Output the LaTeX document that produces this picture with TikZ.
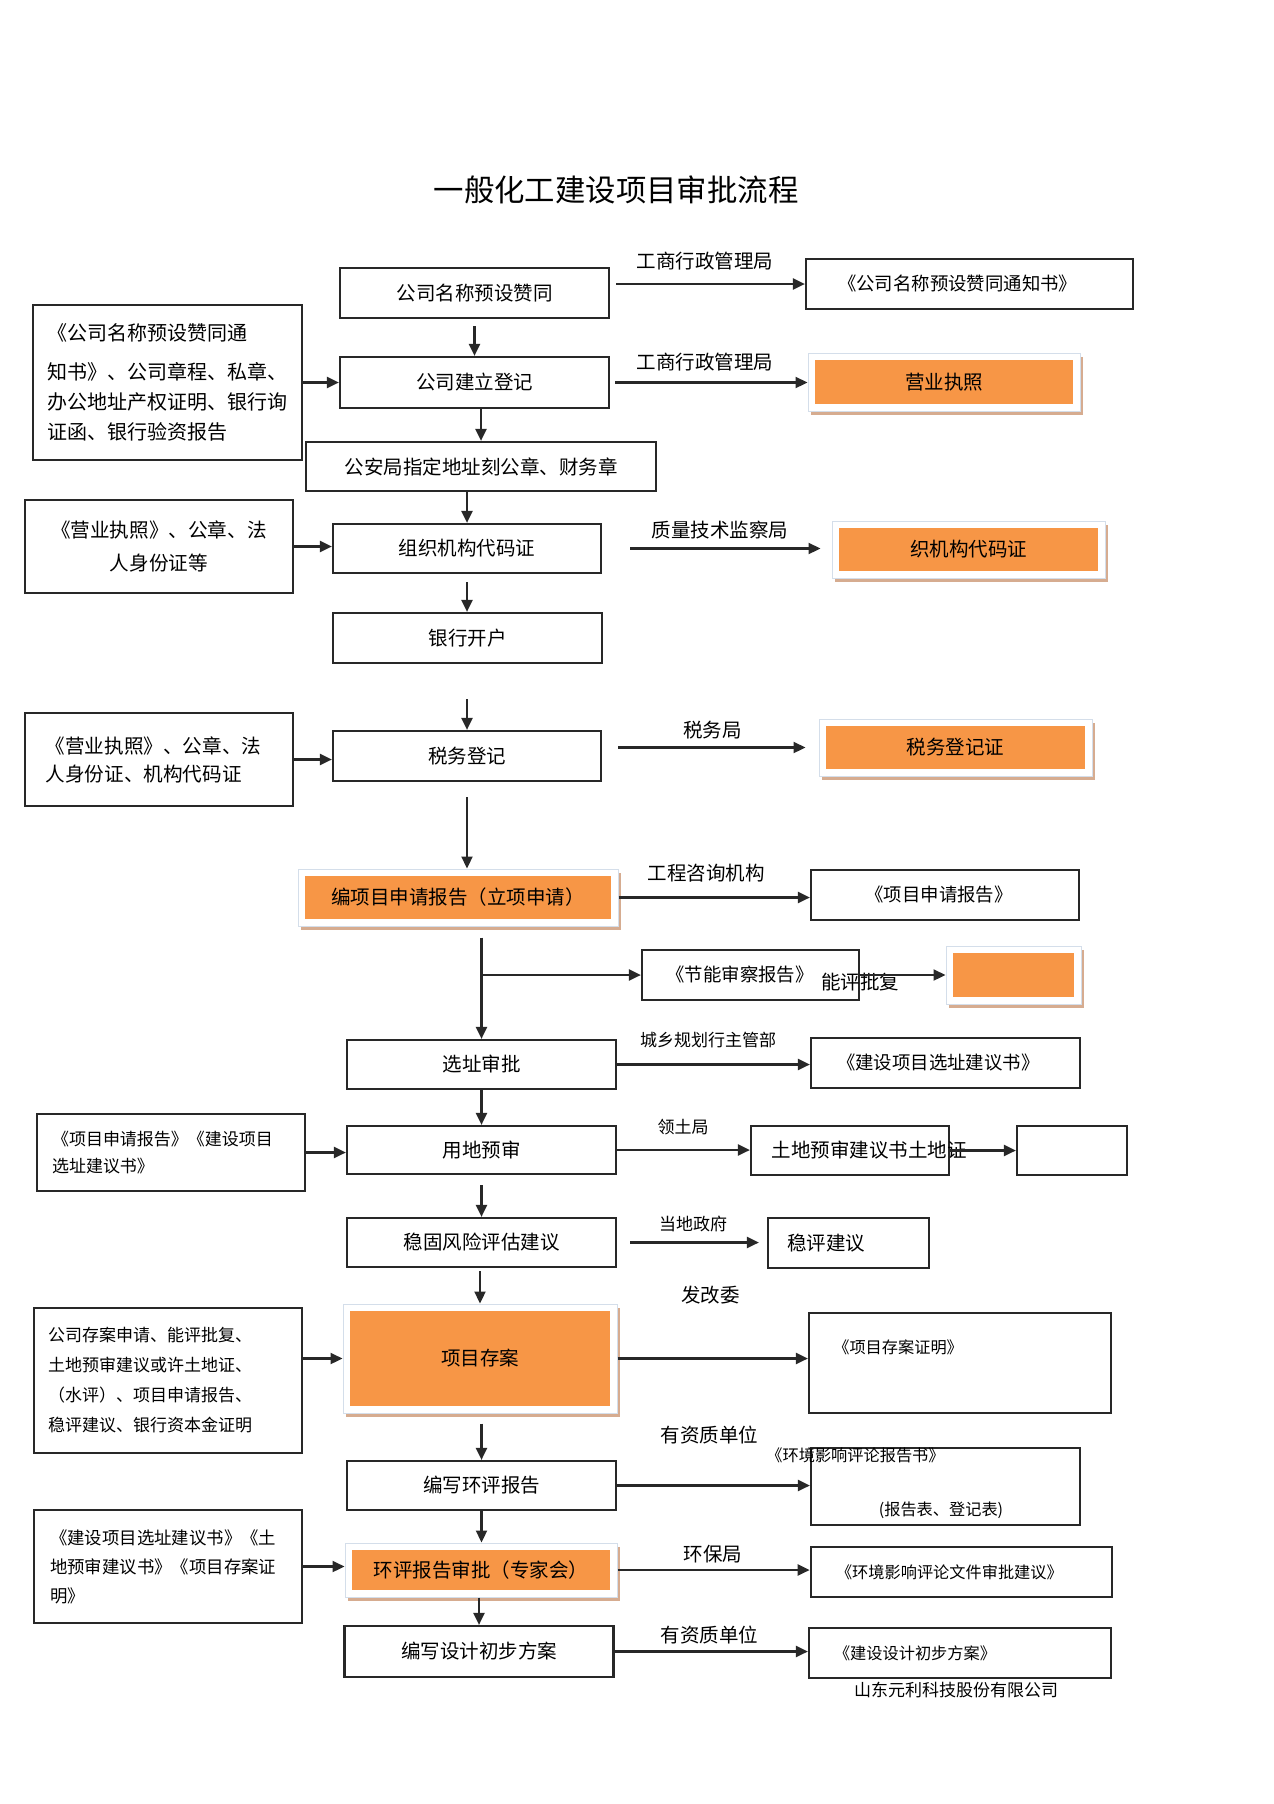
\documentclass[tikz,border=0pt]{standalone}
\usepackage{fontspec}
\setmainfont{Noto Sans CJK SC}
\usetikzlibrary{arrows.meta}

\definecolor{boxorange}{RGB}{247,150,70}
\definecolor{boxshade}{RGB}{214,172,144}
\definecolor{boxrim}{RGB}{212,222,234}
\definecolor{inkgray}{RGB}{40,40,40}

\tikzset{
  plainbox/.style={draw=inkgray, line width=1.1pt, fill=white, inner sep=0pt},
  hotbox/.style={rectangle, draw=boxrim, line width=0.5pt, fill=white, inner sep=0pt,
    preaction={fill=boxshade, transform canvas={xshift=1.5pt, yshift=-2pt}},
    path picture={\fill[boxorange]
      ([shift={(3.5pt,3.5pt)}]path picture bounding box.south west) rectangle
      ([shift={(-3.5pt,-3.5pt)}]path picture bounding box.north east);}},
  flowarrow/.style={draw=inkgray, line width=1.1pt, -{Triangle[length=6pt,width=5.5pt]}},
  txt/.style={inner sep=0pt},
  bigtext/.style={font=\fontsize{9.75pt}{12pt}\selectfont},
  midtext/.style={font=\fontsize{9.2pt}{12pt}\selectfont},
  smalltext/.style={font=\fontsize{8.5pt}{12pt}\selectfont},
  tinytext/.style={font=\fontsize{8.1pt}{12pt}\selectfont}
}

\begin{document}
\begin{tikzpicture}[x=0.5pt,y=-0.5pt]
\useasboundingbox (0,0) rectangle (1274,1804);
\fill[white] (0,0) rectangle (1274,1804);

\node[txt, font=\fontsize{15.2pt}{18pt}\selectfont] (title) at (616,190) {一般化工建设项目审批流程};

% main column
\node[plainbox, bigtext, minimum width=134.5pt, minimum height=25pt] (a1) at (474.5,293) {公司名称预设赞同};
\node[plainbox, bigtext, minimum width=134.5pt, minimum height=25.5pt] (a2) at (474.5,382.5) {公司建立登记};
\node[plainbox, bigtext, minimum width=175pt, minimum height=24.5pt] (a3) at (481,466.5) {公安局指定地址刻公章、财务章};
\node[plainbox, bigtext, minimum width=134pt, minimum height=24.5pt] (a4) at (467,548.5) {组织机构代码证};
\node[plainbox, bigtext, minimum width=134.5pt, minimum height=25pt] (a5) at (467.5,638) {银行开户};
\node[plainbox, bigtext, minimum width=134pt, minimum height=25pt] (a6) at (467,756) {税务登记};
\node[hotbox, bigtext, minimum width=160pt, minimum height=28.5pt] (a7) at (458,897.5) {编项目申请报告（立项申请）};
\node[plainbox, bigtext, minimum width=134.5pt, minimum height=24.5pt] (a8) at (481.5,1064.5) {选址审批};
\node[plainbox, bigtext, minimum width=134.5pt, minimum height=24pt] (a9) at (481.5,1150) {用地预审};
\node[plainbox, bigtext, minimum width=134.5pt, minimum height=24.5pt] (a10) at (481.5,1242.5) {稳固风险评估建议};
\node[hotbox, bigtext, minimum width=137pt, minimum height=54.5pt] (a11) at (480,1358.5) {项目存案};
\node[plainbox, bigtext, minimum width=134.5pt, minimum height=24.5pt] (a12) at (481.5,1485.5) {编写环评报告};
\node[hotbox, bigtext, minimum width=136pt, minimum height=27pt] (a13) at (481,1570) {环评报告审批（专家会）};
\node[plainbox, bigtext, minimum width=134.5pt, minimum height=25.5pt] (a14) at (479,1651.5) {编写设计初步方案};

% left column
\node[plainbox, font=\fontsize{10pt}{15pt}\selectfont, minimum width=134.5pt, minimum height=77.5pt, text width=120pt, align=left] (l1) at (167.5,382.5)
  {《公司名称预设赞同通\\[4.5pt]知书》、公司章程、私章、\\办公地址产权证明、银行询\\证函、银行验资报告};
\node[plainbox, font=\fontsize{9.8pt}{16.5pt}\selectfont, minimum width=134pt, minimum height=46.5pt, text width=120pt, align=center] (l2) at (159,546.5)
  {《营业执照》、公章、法\\人身份证等};
\node[plainbox, font=\fontsize{9.8pt}{14pt}\selectfont, minimum width=134.25pt, minimum height=46.5pt, text width=113.3pt, align=left] (l3) at (159,759.5)
  {《营业执照》、公章、法\\人身份证、机构代码证};
\node[plainbox, font=\fontsize{8.5pt}{13.5pt}\selectfont, minimum width=134pt, minimum height=38.5pt, text width=119pt, align=left] (l4) at (171,1152.5)
  {《项目申请报告》《建设项目\\选址建议书》};
\node[plainbox, font=\fontsize{8.5pt}{15pt}\selectfont, minimum width=134pt, minimum height=72.5pt, text width=120pt, align=left] (l5) at (168,1380.5)
  {公司存案申请、能评批复、\\土地预审建议或许土地证、\\（水评）、项目申请报告、\\稳评建议、银行资本金证明};
\node[plainbox, font=\fontsize{8.7pt}{14.5pt}\selectfont, minimum width=134pt, minimum height=56.5pt, text width=118pt, align=left] (l6) at (168,1566.5)
  {《建设项目选址建议书》《土\\地预审建议书》《项目存案证\\明》};

% right column
\node[plainbox, midtext, minimum width=163.5pt, minimum height=25pt, text width=131.5pt, align=left] (r1) at (969.5,284) {《公司名称预设赞同通知书》};
\node[hotbox, bigtext, minimum width=136pt, minimum height=29pt] (r2) at (944,382) {营业执照};
\node[hotbox, bigtext, minimum width=136.5pt, minimum height=28.5pt] (r3) at (968.5,549.5) {织机构代码证};
\node[hotbox, bigtext, minimum width=136.5pt, minimum height=28.5pt] (r4) at (955.5,747.5) {税务登记证};
\node[plainbox, midtext, minimum width=134pt, minimum height=25pt, text width=79.5pt, align=left] (r5) at (945,895) {《项目申请报告》};
\node[plainbox, midtext, minimum width=108.5pt, minimum height=25pt, text width=84pt, align=left] (r6) at (750.5,975) {《节能审察报告》};
\node[hotbox, minimum width=67.5pt, minimum height=29pt] (r7) at (1013.5,975) {};
\node[txt, bigtext] (nengping) at (860,982) {能评批复};
\node[plainbox, midtext, minimum width=134.5pt, minimum height=25pt, text width=108.5pt, align=left] (r8) at (945.5,1063) {《建设项目选址建议书》};
\node[plainbox, minimum width=99pt, minimum height=24.5pt,
  label={[txt, bigtext, xshift=9.5pt]center:土地预审建议书土地证}] (r9) at (850,1150.5) {};
\node[plainbox, minimum width=55pt, minimum height=24.5pt] (r10) at (1072,1150.5) {};
\node[plainbox, bigtext, minimum width=80.5pt, minimum height=25pt, text width=61.5pt, align=left] (r11) at (848.5,1243) {稳评建议};
\node[plainbox, minimum width=151pt, minimum height=50pt,
  label={[txt, tinytext, anchor=west, xshift=12.5pt, yshift=8pt]west:《项目存案证明》}] (r12) at (960,1363) {};
\node[plainbox, minimum width=134.5pt, minimum height=38.5pt,
  label={[txt, tinytext, xshift=-45pt, yshift=15.75pt]center:《环境影响评论报告书》},
  label={[txt, tinytext, xshift=-2.25pt, yshift=-11.75pt]center:(报告表、登记表)}] (r13) at (945.5,1486.5) {};
\node[plainbox, tinytext, minimum width=150.75pt, minimum height=25pt, text width=125.5pt, align=left] (r14) at (961.5,1572) {《环境影响评论文件审批建议》};
\node[plainbox, tinytext, minimum width=151pt, minimum height=25pt, text width=126pt, align=left] (r15) at (960,1653) {《建设设计初步方案》};
\node[txt, smalltext] (company) at (956,1690) {山东元利科技股份有限公司};

% arrow labels
\node[txt, bigtext] (gs1) at (705,261) {工商行政管理局};
\node[txt, bigtext] (gs2) at (705,362) {工商行政管理局};
\node[txt, bigtext] (zj) at (720,530) {质量技术监察局};
\node[txt, bigtext] (sw) at (712.5,730) {税务局};
\node[txt, bigtext] (gc) at (706,873) {工程咨询机构};
\node[txt, smalltext] (cx) at (708,1040) {城乡规划行主管部};
\node[txt, smalltext] (lt) at (683,1127) {领土局};
\node[txt, smalltext] (dd) at (693,1224) {当地政府};
\node[txt, bigtext] (fg) at (710.7,1295) {发改委};
\node[txt, bigtext] (yz1) at (709.5,1435) {有资质单位};
\node[txt, bigtext] (hb) at (713,1554) {环保局};
\node[txt, bigtext] (yz2) at (709.5,1635) {有资质单位};

% down the main column
\draw[flowarrow, shorten <=3.5pt] (a1.south) -- (a2.north);
\draw[flowarrow] (a2.south -| a3) -- (a3.north);
\draw[flowarrow] (a3.south -| a4) -- (a4.north);
\draw[flowarrow, shorten <=4pt] (a4.south) -- (a4.south |- a5.north);
\draw[flowarrow, shorten <=17.5pt] (a5.south -| a6) -- (a6.north);
\draw[flowarrow, shorten <=7.5pt] (a6.south) -- (a6.south |- a7.north);
\draw[flowarrow, shorten <=5.5pt] (a7.south -| a8) -- (a8.north);
\coordinate (fork) at (a8.north |- r6.west);
\draw[flowarrow] (fork) -- (r6.west);
\draw[flowarrow] (a8.south) -- (a9.north);
\draw[flowarrow, shorten <=5pt] (a9.south) -- (a10.north);
\draw[flowarrow, shorten <=1.5pt] (a10.south -| a11) -- (a11.north);
\draw[flowarrow, shorten <=5pt] (a11.south -| a12) -- (a12.north);
\draw[flowarrow] (a12.south) -- (a12.south |- a13.north);
\draw[flowarrow] (a13.south -| a14) -- (a14.north);

% out to the right
\draw[flowarrow, shorten <=3pt] (a1.east |- r1.west) -- (r1.west);
\draw[flowarrow, shorten <=2.5pt] (a2.east) -- (a2.east -| r2.west);
\draw[flowarrow, shorten <=14pt, shorten >=5.5pt] (a4.east) -- (a4.east -| r3.west);
\draw[flowarrow, shorten <=8pt, shorten >=6.5pt] (a6.east |- r4.west) -- (r4.west);
\draw[flowarrow] (a7.east) -- (a7.east -| r5.west);
\draw[flowarrow] (r6.east) -- (r7.west);
\draw[flowarrow] (a8.east) -- (a8.east -| r8.west);
\draw[flowarrow] (a9.east) -- (a9.east -| r9.west);
\draw[flowarrow] (r9.east) -- (r10.west);
\draw[flowarrow, shorten <=6.5pt, shorten >=4pt] (a10.east) -- (a10.east -| r11.west);
\draw[flowarrow] (a11.east) -- (a11.east -| r12.west);
\draw[flowarrow] (a12.east) -- (a12.east -| r13.west);
\draw[flowarrow] (a13.east) -- (a13.east -| r14.west);
\draw[flowarrow] (a14.east) -- (a14.east -| r15.west);

% in from the left
\draw[flowarrow] (l1.east) -- (l1.east -| a2.west);
\draw[flowarrow] (l2.east) -- (l2.east -| a4.west);
\draw[flowarrow] (l3.east) -- (l3.east -| a6.west);
\draw[flowarrow] (l4.east) -- (l4.east -| a9.west);
\draw[flowarrow] (l5.east |- a11.west) -- (a11.west);
\draw[flowarrow] (l6.east) -- (l6.east -| a13.west);
\end{tikzpicture}
\end{document}
